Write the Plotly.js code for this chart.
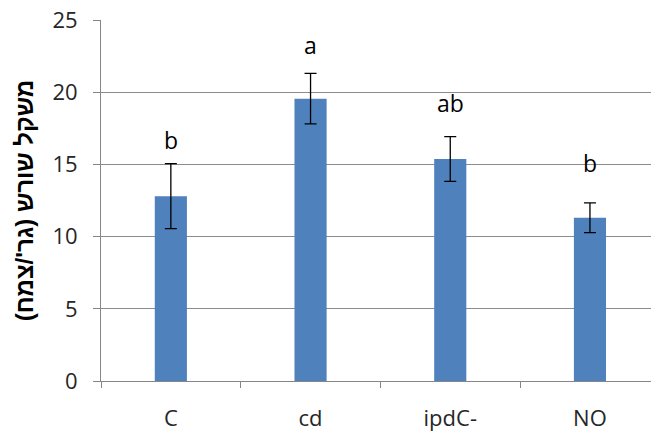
<!DOCTYPE html>
<html>
<head>
<meta charset="utf-8">
<script src="https://cdn.plot.ly/plotly-3.0.1.min.js"></script>
<style>html,body{margin:0;padding:0;background:#fff;}#chart{width:651px;height:434px;}</style>
</head>
<body>
<div id="chart"></div>
<script>
const categories = ["C", "cd", "ipdC-", "NO"];
const values = [12.8, 19.55, 15.37, 11.3];
const errors = [2.25, 1.75, 1.55, 1.03];
const letters = ["b", "a", "ab", "b"];
const letterY = [16.7, 23.3, 19.25, 15.1];
const yTitle = "משקל שורש (גר'/צמח)";

const trace = {
  type: "bar",
  x: categories,
  y: values,
  width: 0.23,
  marker: {color: "#4F81BD"},
  error_y: {type: "data", array: errors, visible: true, color: "#000000", thickness: 1.3, width: 6}
};

const annotations = categories.map((c, i) => ({
  x: c, y: letterY[i], xref: "x", yref: "y", text: letters[i], showarrow: false,
  yanchor: "middle", xanchor: "center",
  font: {family: "Open Sans, sans-serif", size: 23, color: "#000000"}
}));

const layout = {
  width: 651, height: 434,
  margin: {l: 101, r: 0, t: 20, b: 53, pad: 0},
  paper_bgcolor: "#ffffff", plot_bgcolor: "#ffffff",
  showlegend: false,
  font: {family: "Open Sans, sans-serif", size: 22, color: "#262626"},
  xaxis: {
    type: "category", range: [-0.5, 3.437],
    showline: true, linecolor: "#868686", linewidth: 1,
    ticks: "outside", tickson: "boundaries", ticklen: 6, tickcolor: "#868686",
    showgrid: false, zeroline: false, fixedrange: true,
    tickfont: {size: 22, color: "#262626"}, ticklabelstandoff: 18
  },
  yaxis: {
    range: [0, 25], tickvals: [0, 5, 10, 15, 20, 25], ticktext: ["0","5","10","15","20","25"],
    showline: true, linecolor: "#868686", linewidth: 1,
    ticks: "outside", ticklen: 7, tickcolor: "#868686",
    showgrid: true, gridcolor: "#8c8c8c", gridwidth: 1, zeroline: false,
    tickfont: {size: 22, color: "#262626"}, ticklabelstandoff: 11,
    title: {text: yTitle, font: {family: "Liberation Sans, Arial, sans-serif", size: 24, color: "#000000", weight: "bold"}, standoff: 12}
  },
  annotations: annotations
};

Plotly.newPlot("chart", [trace], layout, {displayModeBar: false, staticPlot: true});
</script>
</body>
</html>
